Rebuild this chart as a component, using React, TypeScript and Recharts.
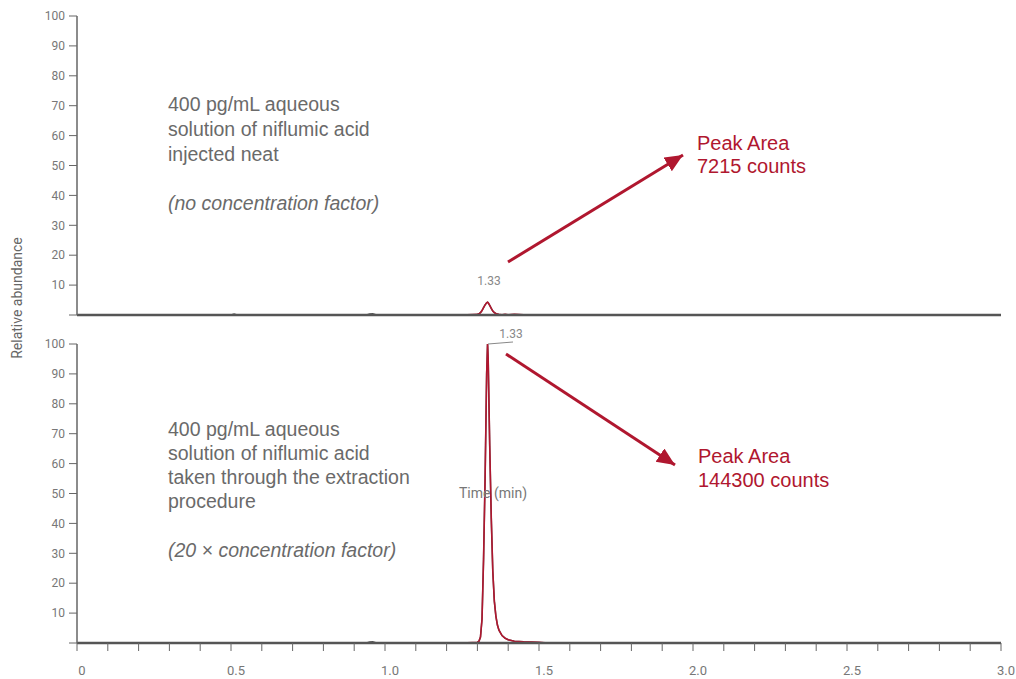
import { LineChart, Line, XAxis, YAxis } from 'recharts';

// retention time (min)
const times = [
  0, 0.25, 0.5, 0.51, 0.52, 0.75, 0.94, 0.95, 0.96, 0.97, 1.0, 1.1, 1.17, 1.2, 1.25, 1.3, 1.305, 1.31,
  1.315, 1.32, 1.325, 1.33, 1.333, 1.335, 1.34, 1.345, 1.35, 1.355, 1.36, 1.365, 1.37, 1.38, 1.39, 1.4,
  1.42, 1.45, 1.5, 1.53, 1.56, 1.6, 1.8, 2.0, 2.5, 2.8, 3.0,
];

// injected neat
const neatAbundance = [
  0, 0, 0, 0.3, 0, 0, 0, 0.3, 0.4, 0.1, 0, 0.1, 0, 0.1, 0, 0.2, 0.4, 0.8,
  1.5, 2.5, 3.4, 4.1, 4.3, 4.1, 3.2, 2.2, 1.3, 0.8, 0.5, 0.3, 0.2, 0.1, 0.2, 0.1,
  0.2, 0.1, 0.1, 0.1, 0, 0, 0.1, 0, 0, 0.1, 0,
];

// taken through extraction
const extractedAbundance = [
  0, 0, 0, 0, 0, 0, 0, 0.3, 0.4, 0.1, 0, 0, 0, 0, 0, 0.2, 0.6, 2,
  8, 28, 55, 90, 100, 95, 66, 42, 24, 14, 9, 6, 4.3, 2.5, 1.6, 1.1,
  0.6, 0.4, 0.2, 0, 0, 0, 0, 0, 0, 0, 0,
];

const neatWindow = [1.17, 1.56];
const extractedWindow = [1.17, 1.53];

const yTicks = [0, 10, 20, 30, 40, 50, 60, 70, 80, 90, 100];
const xTicks = [
  0, 0.1, 0.2, 0.3, 0.4, 0.5, 0.6, 0.7, 0.8, 0.9, 1.0, 1.1, 1.2, 1.3, 1.4, 1.5, 1.6, 1.7, 1.8, 1.9, 2.0,
  2.1, 2.2, 2.3, 2.4, 2.5, 2.6, 2.7, 2.8, 2.9, 3.0,
];

const RED = '#b0172f';
const TRACE = '#555';
const FONT = 'Roboto, "Liberation Sans", sans-serif';
const TEXT_FONT = '"Liberation Sans", Arial, sans-serif';

const data = times.map((t, i) => ({
  t,
  neat: neatAbundance[i],
  neatRed: t >= neatWindow[0] && t <= neatWindow[1] ? neatAbundance[i] : null,
  ext: extractedAbundance[i],
  extRed: t >= extractedWindow[0] && t <= extractedWindow[1] ? extractedAbundance[i] : null,
}));

const tickStyle = { fontSize: 12, fill: '#777', fontFamily: FONT };
const xTickStyle = { fontSize: 13, fill: '#777', fontFamily: FONT, dx: 5 };
const yFmt = (v: number) => (v === 0 ? '' : String(v));
const xFmt = (v: number) => {
  if (Math.round(v * 10) % 5 !== 0) return '';
  return v === 0 ? '0' : v.toFixed(1);
};

const Panel = ({ top, showX }: { top: boolean; showX: boolean }) => (
  <LineChart
    width={1016}
    height={top ? 330 : 349}
    data={data}
    margin={top ? { top: 16, right: 15, left: 0, bottom: 14 } : { top: 14, right: 15, left: 0, bottom: 0 }}
  >
    <XAxis
      dataKey="t"
      type="number"
      domain={[0, 3]}
      ticks={xTicks}
      tickFormatter={xFmt}
      height={showX ? 36 : 1}
      tick={showX ? xTickStyle : false}
      tickLine={showX ? { stroke: '#666' } : false}
      tickSize={8}
      tickMargin={15}
      axisLine={{ stroke: '#555', strokeWidth: 2.5 }}
      interval={0}
    />
    <YAxis
      domain={[0, 100]}
      ticks={yTicks}
      tickFormatter={yFmt}
      width={77}
      tick={tickStyle}
      tickSize={8}
      tickMargin={4}
      tickLine={{ stroke: '#666' }}
      axisLine={{ stroke: '#666', strokeWidth: 1.5 }}
      interval={0}
    />
    <Line
      dataKey={top ? 'neat' : 'ext'}
      stroke={TRACE}
      strokeWidth={1.5}
      dot={false}
      isAnimationActive={false}
    />
    <Line
      dataKey={top ? 'neatRed' : 'extRed'}
      stroke={RED}
      strokeWidth={1.6}
      dot={false}
      connectNulls={false}
      isAnimationActive={false}
    />
  </LineChart>
);

const App = () => {
  const body = { fontFamily: TEXT_FONT, fontSize: 19.5, fill: '#6a6a6a' };
  const red = { fontFamily: TEXT_FONT, fontSize: 20, fill: RED };
  return (
    <div style={{ position: 'absolute', left: 0, top: 0, width: 1016, height: 679, background: '#fff' }}>
      <div style={{ position: 'absolute', left: 0, top: 0 }}>
        <Panel top={true} showX={false} />
      </div>
      <div style={{ position: 'absolute', left: 0, top: 330 }}>
        <Panel top={false} showX={true} />
      </div>
      <svg
        width={1016}
        height={679}
        style={{ position: 'absolute', left: 0, top: 0, pointerEvents: 'none' }}
      >
        <defs>
          <marker id="head" markerUnits="userSpaceOnUse" markerWidth="20" markerHeight="18" refX="18" refY="8" orient="auto">
            <path d="M0,0 L18,8 L0,16 Z" fill={RED} />
          </marker>
        </defs>
        <text x={22} y={298} transform="rotate(-90 22 298)" textAnchor="middle" fontFamily={FONT} fontSize={14} fill="#666">
          Relative abundance
        </text>

        <text x={168} y={111} {...body}>400 pg/mL aqueous</text>
        <text x={168} y={136} {...body}>solution of niflumic acid</text>
        <text x={168} y={161} {...body}>injected neat</text>
        <text x={168} y={210} {...body} fontStyle="italic">(no concentration factor)</text>

        <text x={168} y={436} {...body}>400 pg/mL aqueous</text>
        <text x={168} y={460} {...body}>solution of niflumic acid</text>
        <text x={168} y={484} {...body}>taken through the extraction</text>
        <text x={168} y={508} {...body}>procedure</text>
        <text x={168} y={557} {...body} fontStyle="italic">(20 × concentration factor)</text>

        <text x={697} y={150} {...red}>Peak Area</text>
        <text x={697} y={173} {...red}>7215 counts</text>
        <text x={698} y={463} {...red}>Peak Area</text>
        <text x={698} y={487} {...red}>144300 counts</text>

        <line x1={508} y1={262} x2={683} y2={155} stroke={RED} strokeWidth={3} markerEnd="url(#head)" />
        <line x1={506} y1={354} x2={675} y2={465} stroke={RED} strokeWidth={3} markerEnd="url(#head)" />

        <text x={489} y={285} textAnchor="middle" fontFamily={FONT} fontSize={12} fill="#888">1.33</text>
        <text x={511} y={338} textAnchor="middle" fontFamily={FONT} fontSize={12} fill="#888">1.33</text>
        <line x1={488} y1={344} x2={513} y2={342} stroke="#888" strokeWidth={1} />
        <text x={459} y={498} fontFamily={FONT} fontSize={14} fill="#777">Time (min)</text>
      </svg>
    </div>
  );
};

export default App;
